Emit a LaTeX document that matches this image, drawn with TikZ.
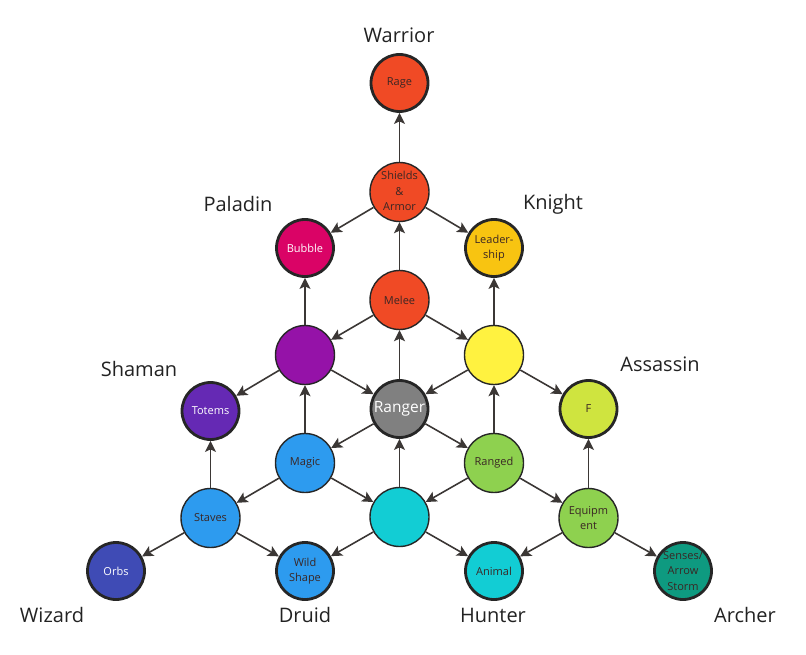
\documentclass[tikz,border=0pt]{standalone}
\usepackage{fontspec}
\setmainfont{Open Sans}
\usetikzlibrary{arrows.meta}
\definecolor{cRed}{HTML}{F04A25}
\definecolor{cMag}{HTML}{DA0366}
\definecolor{cGold}{HTML}{F8C411}
\definecolor{cPurp}{HTML}{9512A8}
\definecolor{cYel}{HTML}{FFF240}
\definecolor{cVio}{HTML}{6529B4}
\definecolor{cGray}{HTML}{808080}
\definecolor{cLime}{HTML}{CFE43F}
\definecolor{cBlue}{HTML}{2D9BEF}
\definecolor{cGreen}{HTML}{8ED14F}
\definecolor{cCyan}{HTML}{12CDD4}
\definecolor{cIndigo}{HTML}{3F4BB5}
\definecolor{cTeal}{HTML}{0E9A80}
\definecolor{cLine}{HTML}{3B3735}
\definecolor{cText}{HTML}{3A2624}
\definecolor{cLabel}{HTML}{222222}
\begin{document}
\begin{tikzpicture}[x=1pt,y=-1pt,
  skill/.style={circle,draw=black!85,line width=1.4pt,minimum size=59pt,inner sep=0pt,
    align=center,text=cText,font=\fontsize{11}{15.5}\selectfont},
  leaf/.style={skill,line width=2.8pt,minimum size=57pt},
  wtext/.style={text=white},
  cls/.style={text=cLabel,font=\fontsize{20}{24}\selectfont},
  arr/.style={-{Stealth[length=11pt,width=11pt,inset=2.5pt]},draw=cLine,line width=1.6pt}]
\useasboundingbox (0,0) rectangle (806,655);
% columns
\def\cA{116}\def\cB{210.5}\def\cC{305}\def\cD{399.5}\def\cE{494}\def\cF{588.5}\def\cG{683}
% nodes
\node[leaf,fill=cRed] (rage) at (\cD,83) {Rage};
\node[skill,fill=cRed] (shields) at (\cD,192) {\raisebox{-1.5pt}{\begin{tabular}{@{}c@{}}Shields\\\&\\Armor\end{tabular}}};
\node[leaf,fill=cMag,wtext] (bubble) at (\cC,248) {Bubble};
\node[leaf,fill=cGold] (lead) at (\cE,248) {Leader-\\ship};
\node[skill,fill=cRed] (melee) at (\cD,300) {Melee};
\node[skill,fill=cPurp] (purple) at (\cC,355) {};
\node[skill,fill=cYel] (yellow) at (\cE,355) {};
\node[leaf,fill=cVio,wtext] (totems) at (\cB,411) {Totems};
\node[leaf,fill=cGray,wtext,font=\fontsize{15.5}{18}\selectfont] (ranger) at (\cD,409) {Ranger};
\node[leaf,fill=cLime] (f) at (\cF,409) {F};
\node[skill,fill=cBlue] (magic) at (\cC,463) {Magic};
\node[skill,fill=cGreen] (ranged) at (\cE,463) {Ranged};
\node[skill,fill=cBlue] (staves) at (\cB,518) {Staves};
\node[skill,fill=cCyan] (cyan) at (\cD,517) {};
\node[skill,fill=cGreen] (equip) at (\cF,518) {Equipm\\ent};
\node[leaf,fill=cIndigo,wtext] (orbs) at (\cA,571) {Orbs};
\node[leaf,fill=cBlue] (wild) at (\cC,571) {Wild\\Shape};
\node[leaf,fill=cCyan] (animal) at (\cE,571) {Animal};
\node[leaf,fill=cTeal] (senses) at (\cG,571) {Senses/\\Arrow\\Storm};
% class labels
\node[cls] (lwarrior) at (399,35) {Warrior};
\node[cls] (lpaladin) at (238,204) {Paladin};
\node[cls] (lknight) at (553,204) {Knight};
\node[cls] (lshaman) at (139,369) {Shaman};
\node[cls] (lassassin) at (660,364) {Assassin};
\node[cls] (lwizard) at (52,615) {Wizard};
\node[cls] (ldruid) at (305,615) {Druid};
\node[cls] (lhunter) at (493,615) {Hunter};
\node[cls] (larcher) at (745,615) {Archer};
% edges
\draw[arr] (shields) -- (rage);
\draw[arr] (shields) -- (bubble);
\draw[arr] (shields) -- (lead);
\draw[arr] (melee) -- (shields);
\draw[arr] (melee) -- (purple);
\draw[arr] (melee) -- (yellow);
\draw[arr] (purple) -- (bubble);
\draw[arr] (yellow) -- (lead);
\draw[arr] (purple) -- (totems);
\draw[arr] (purple) -- (ranger);
\draw[arr] (yellow) -- (ranger);
\draw[arr] (yellow) -- (f);
\draw[arr] (ranger) -- (melee);
\draw[arr] (magic) -- (purple);
\draw[arr] (ranged) -- (yellow);
\draw[arr] (ranger) -- (magic);
\draw[arr] (ranger) -- (ranged);
\draw[arr] (magic) -- (staves);
\draw[arr] (magic) -- (cyan);
\draw[arr] (ranged) -- (cyan);
\draw[arr] (ranged) -- (equip);
\draw[arr] (staves) -- (totems);
\draw[arr] (cyan) -- (ranger);
\draw[arr] (equip) -- (f);
\draw[arr] (staves) -- (orbs);
\draw[arr] (staves) -- (wild);
\draw[arr] (cyan) -- (wild);
\draw[arr] (cyan) -- (animal);
\draw[arr] (equip) -- (animal);
\draw[arr] (equip) -- (senses);
\end{tikzpicture}
\end{document}
